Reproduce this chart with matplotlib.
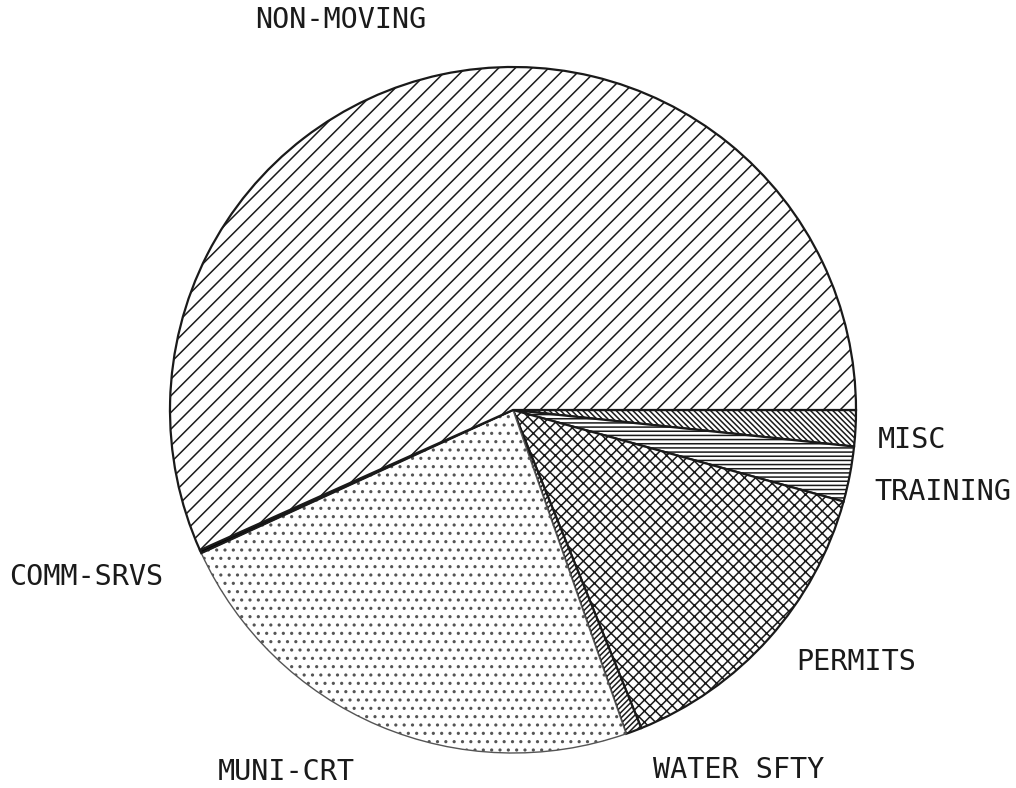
import matplotlib.pyplot as plt

# slices, clockwise from 3 o'clock
categories = ['MISC', 'TRAINING', 'PERMITS', 'WATER SFTY', 'MUNI-CRT', 'COMM-SRVS', 'NON-MOVING']
shares = [1.7, 2.6, 14.6, 0.75, 23.5, 0.15, 56.7]

hatches = ['\\\\\\\\\\\\', '----', 'xxx', '//////', '..', '', '//']
fills = ['white', 'white', 'white', 'white', 'white', 'black', 'white']
explode = [0, 0, 0, 0, 0, 0, 0.01]

# label spots in pixel coords (x from left, y from top)
label_pos = [(912, 440), (943, 492), (856, 662), (739, 770), (286, 772), (86, 577), (341, 20)]


def main():
    plt.rcParams['hatch.linewidth'] = 1.1
    plt.rcParams['hatch.color'] = '#222222'

    fig = plt.figure(figsize=(10.16, 7.88), dpi=100)
    ax = fig.add_axes([0, 0, 1, 1])

    wedges, _ = ax.pie(shares, startangle=0, counterclock=False, explode=explode,
                       center=(513, 788 - 410), radius=343, frame=True,
                       colors=fills,
                       wedgeprops=dict(edgecolor='#1a1a1a', linewidth=1.6))
    for w, h in zip(wedges, hatches):
        w.set_hatch(h)
    # muni-crt rim is drawn faintly in the original
    wedges[4].set_edgecolor('#555555')
    wedges[4].set_linewidth(1.0)

    ax.set_xlim(0, 1016)
    ax.set_ylim(0, 788)
    ax.set_aspect('equal')
    ax.axis('off')

    for name, (x, y) in zip(categories, label_pos):
        ax.text(x, 788 - y, name, ha='center', va='center', fontsize=20.5,
                family='DejaVu Sans Mono', color='#1a1a1a')

    fig.savefig('out.png', dpi=100, facecolor='white')


if __name__ == '__main__':
    main()
